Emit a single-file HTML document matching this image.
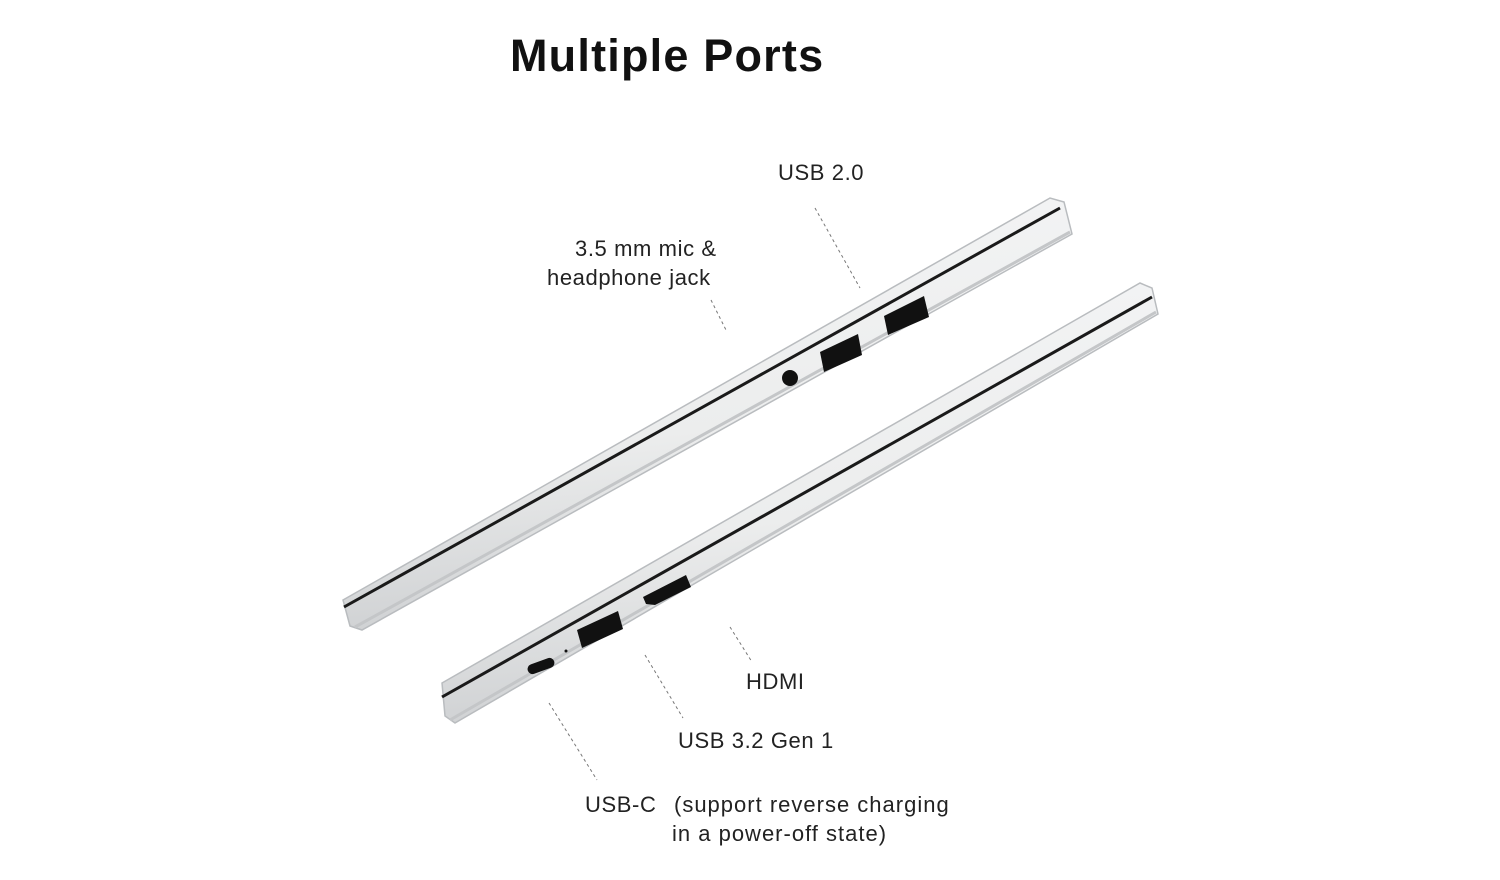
<!DOCTYPE html>
<html><head><meta charset="utf-8"><style>
body{margin:0;background:#fff;width:1500px;height:880px;overflow:hidden;font-family:"Liberation Sans",sans-serif}
svg{position:absolute;left:0;top:0}
</style></head><body>
<svg width="1500" height="880" viewBox="0 0 1500 880" xmlns="http://www.w3.org/2000/svg">
<defs>
<linearGradient id="g1" x1="0" y1="0" x2="0.15" y2="1">
<stop offset="0" stop-color="#f4f5f6"/><stop offset="0.6" stop-color="#eceded"/><stop offset="1" stop-color="#cfd1d3"/></linearGradient>
</defs>
<text x="510" y="71" font-size="45" font-weight="bold" fill="#111" letter-spacing="1.2" font-family="Liberation Sans, sans-serif">Multiple Ports</text>
<g font-size="22" fill="#222" letter-spacing="0.6" font-family="Liberation Sans, sans-serif">
<text x="778" y="180">USB 2.0</text>
<text x="575" y="256">3.5 mm mic &amp;</text>
<text x="547" y="285">headphone jack</text>
<text x="746" y="689">HDMI</text>
<text x="678" y="748">USB 3.2 Gen 1</text>
<text x="585" y="812">USB-C</text>
<text x="674" y="812" letter-spacing="1">(support reverse charging</text>
<text x="672" y="841" letter-spacing="1">in a power-off state)</text>
</g>
<g stroke="#777" stroke-width="1" stroke-dasharray="3,3" fill="none">
<line x1="815" y1="208" x2="860" y2="288"/>
<line x1="711" y1="300" x2="727" y2="332"/>
<line x1="730" y1="627" x2="752" y2="662"/>
<line x1="645" y1="655" x2="683" y2="718"/>
<line x1="549" y1="703" x2="597" y2="780"/>
</g>
<!-- top laptop -->
<polygon points="343,600 1050,198 1064,202 1072,234 362,630 350,626" fill="url(#g1)" stroke="#b9bcbf" stroke-width="1.5"/>
<line x1="344" y1="607" x2="1060" y2="208" stroke="#1a1a1a" stroke-width="3"/>
<line x1="355" y1="627" x2="1070" y2="232" stroke="#c4c6c8" stroke-width="3"/>
<circle cx="790" cy="378" r="8" fill="#111"/>
<polygon points="820,352 858,334 862,355 824,372" fill="#111"/>
<polygon points="884,316 924,296 929,317 888,335" fill="#111"/>
<!-- bottom laptop -->
<polygon points="442,683 1140,283 1152,288 1158,314 455,723 445,716" fill="url(#g1)" stroke="#b9bcbf" stroke-width="1.5"/>
<line x1="442" y1="697" x2="1152" y2="297" stroke="#1a1a1a" stroke-width="3"/>
<line x1="450" y1="720" x2="1156" y2="312" stroke="#c4c6c8" stroke-width="3"/>
<rect x="527" y="661" width="28" height="10" rx="5" fill="#111" transform="rotate(-20 541 666)"/>
<circle cx="566" cy="651" r="1.5" fill="#111"/>
<polygon points="577,630 618,611 623,629 582,648" fill="#111"/>
<polygon points="643,597 686,575 691,587 655,605 646,604" fill="#111"/>
</svg>
</body></html>
